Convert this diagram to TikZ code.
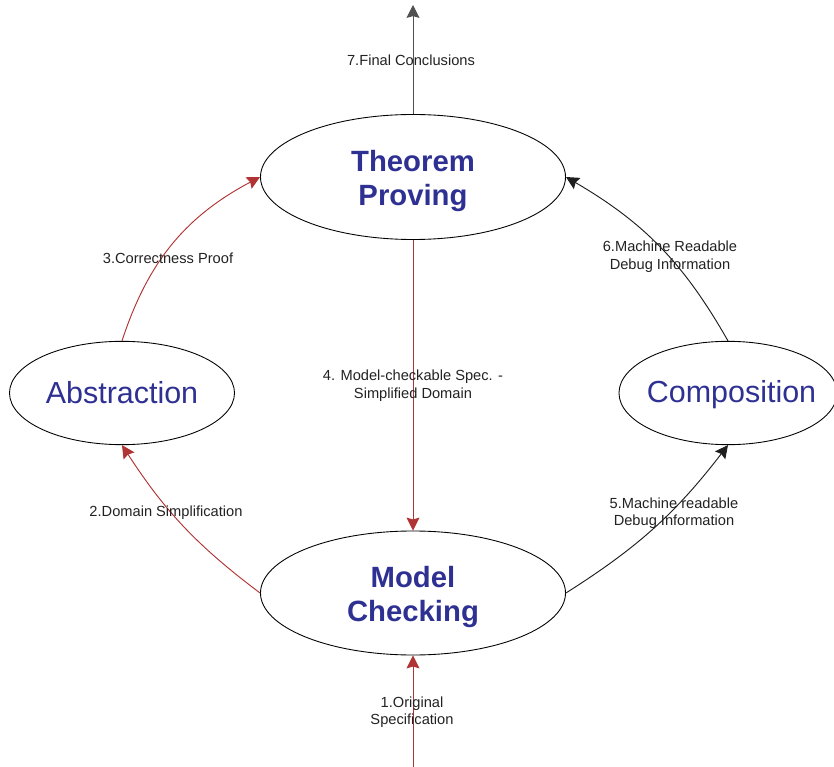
\documentclass[tikz,border=0pt]{standalone}
\usepackage{fontspec}
\setmainfont{Liberation Sans}
\usetikzlibrary{shapes.geometric, arrows.meta}
\definecolor{titletext}{HTML}{2E3192}
\definecolor{labeltext}{HTML}{222222}
\definecolor{redflow}{HTML}{B03434}
\definecolor{darkflow}{HTML}{1E1E1E}
\definecolor{topflow}{HTML}{505050}

\begin{document}
\begin{tikzpicture}[
    x=0.03cm, y=-0.03cm,
    oval/.style={ellipse, draw=black, line width=0.75pt, inner sep=0pt},
    bigtitle/.style={font=\fontsize{25}{29}\selectfont\bfseries, text=titletext, align=center, yshift=-3pt},
    title/.style={font=\fontsize{26}{30}\selectfont, text=titletext, align=center},
    lbl/.style={font=\fontsize{12.5}{15}\selectfont, text=labeltext, align=center},
    arrow/.style={-{Stealth[length=11pt, width=11pt, inset=1.5pt]}, line width=0.8pt, color=#1}
]
\useasboundingbox (0,0) rectangle (834,767);

\node[oval, minimum width=9.15cm, minimum height=3.75cm,
      label={[bigtitle]center:Theorem\\Proving}] (tp) at (413,177) {};
\node[oval, minimum width=9.15cm, minimum height=3.72cm,
      label={[bigtitle]center:Model\\Checking}] (mc) at (413,593) {};
\node[oval, minimum width=6.75cm, minimum height=3.1cm,
      label={[title]center:Abstraction}] (abs) at (122,393) {};
\node[oval, minimum width=6.54cm, minimum height=3.1cm,
      label={[title, xshift=3pt, yshift=-1pt]center:Composition}] (comp) at (728,393) {};

\coordinate (spec) at (413,767);
\coordinate (done) at (413,5);

\draw[arrow=redflow] (spec) -- (mc.south);
\draw[arrow=redflow] (mc.west) to[bend left=10] (abs.south);
\draw[arrow=redflow] (abs.north) to[bend left=22] (tp.west);
\draw[arrow=redflow] (tp.south) -- (mc.north);
\draw[arrow=darkflow] (mc.east) to[bend right=10] (comp.south);
\draw[arrow=darkflow] (comp.north) to[bend right=15] (tp.east);
\draw[arrow=topflow] (tp.north) -- (done);

\node[lbl] (l1) at (412,712) {1.Original\\Specification};
\node[lbl] (l2) at (166,513) {2.Domain Simplification};
\node[lbl] (l3) at (168,258) {3.Correctness Proof};
\node[lbl] (l4) at (413,386) {4. Model-checkable Spec. -\\Simplified Domain};
\node[lbl] (l5) at (674,513) {5.Machine readable\\Debug Information};
\node[lbl] (l6) at (670,257) {6.Machine Readable\\Debug Information};
\node[lbl] (l7) at (411,60) {7.Final Conclusions};

\end{tikzpicture}
\end{document}
